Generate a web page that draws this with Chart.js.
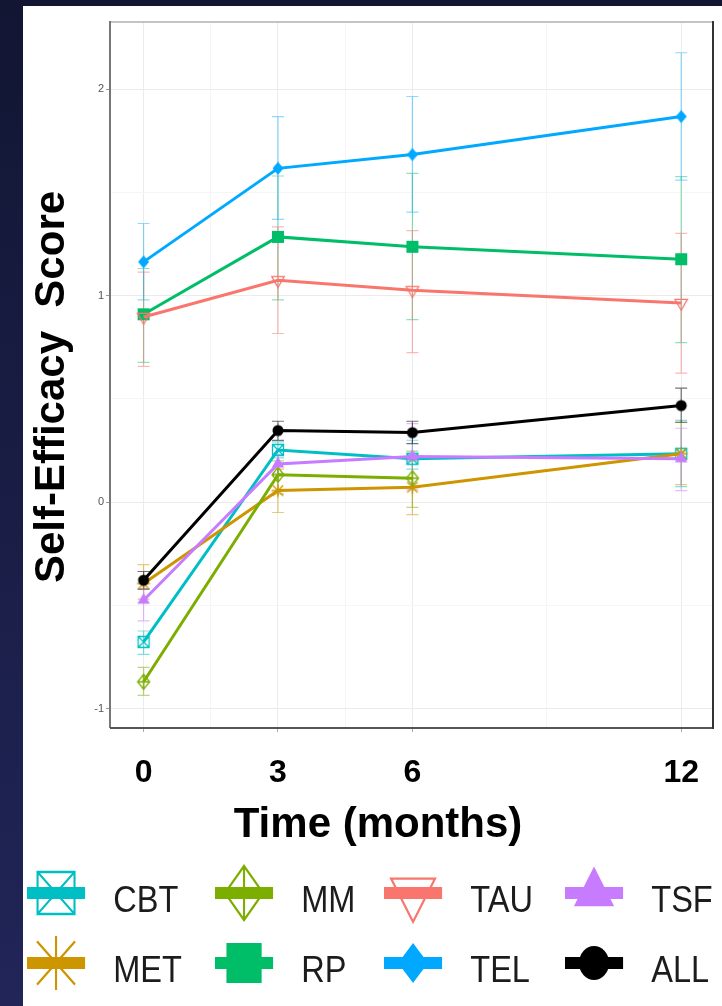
<!DOCTYPE html>
<html>
<head>
<meta charset="utf-8">
<script src="https://cdn.jsdelivr.net/npm/chart.js@4.4.1/dist/chart.umd.min.js"></script>
<style>
  html, body { margin: 0; padding: 0; }
  body { width: 722px; height: 1006px; overflow: hidden; position: relative;
         background: linear-gradient(#121633, #212558); }
  #sheet { position: absolute; left: 23px; top: 6px; right: 0; bottom: 0; background: #fff; }
  #box { position: absolute; left: 0; top: 0; width: 722px; height: 1006px; }
</style>
</head>
<body>
<div id="sheet"></div>
<div id="box"><canvas id="chart"></canvas></div>
<script>
// time points (months) and axis ticks
const months = [0, 3, 6, 12];
const xTicks = [0, 3, 6, 12];
const xMinor = [1.5, 4.5, 9];
const yTicks = [-1, 0, 1, 2];
const yMinor = [-0.5, 0.5, 1.5];
const groups = ['CBT', 'MET', 'MM', 'RP', 'TAU', 'TEL', 'TSF', 'ALL'];

// group means and error bar ends
const cbtMean = [-0.677, 0.253, 0.210, 0.234];
const cbtLow  = [-0.737, 0.215, 0.160, 0.075];
const cbtHigh = [-0.624, 0.292, 0.300, 0.396];

const metMean = [-0.394, 0.056, 0.072, 0.235];
const metLow  = [-0.470, -0.050, -0.060, 0.085];
const metHigh = [-0.303, 0.160, 0.200, 0.387];

const mmMean = [-0.870, 0.133, 0.116, null];
const mmLow  = [-0.936, 0.040, -0.025, null];
const mmHigh = [-0.800, 0.200, 0.247, null];

const rpMean = [0.910, 1.285, 1.237, 1.177];
const rpLow  = [0.677, 0.980, 0.884, 0.773];
const rpHigh = [1.132, 1.580, 1.593, 1.577];

const tauMean = [0.897, 1.075, 1.027, 0.965];
const tauLow  = [0.658, 0.817, 0.724, 0.625];
const tauHigh = [1.114, 1.334, 1.315, 1.302];

const telMean = [1.164, 1.617, 1.684, 1.868];
const telLow  = [0.980, 1.370, 1.405, 1.560];
const telHigh = [1.350, 1.868, 1.965, 2.177];

const tsfMean = [-0.475, 0.185, 0.221, 0.210];
const tsfLow  = [-0.575, 0.140, 0.060, 0.056];
const tsfHigh = [-0.420, 0.230, 0.380, 0.358];

const allMean = [-0.378, 0.347, 0.337, 0.468];
const allLow  = [-0.421, 0.299, 0.284, 0.387];
const allHigh = [-0.336, 0.392, 0.392, 0.552];

const table = {
  CBT: { mean: cbtMean, low: cbtLow, high: cbtHigh },
  MET: { mean: metMean, low: metLow, high: metHigh },
  MM:  { mean: mmMean,  low: mmLow,  high: mmHigh },
  RP:  { mean: rpMean,  low: rpLow,  high: rpHigh },
  TAU: { mean: tauMean, low: tauLow, high: tauHigh },
  TEL: { mean: telMean, low: telLow, high: telHigh },
  TSF: { mean: tsfMean, low: tsfLow, high: tsfHigh },
  ALL: { mean: allMean, low: allLow, high: allHigh }
};

// look of each group (plot marker size, legend marker size)
const look = {
  CBT: { color: '#00BFC4', err: 'rgba(0,191,196,0.5)',   shape: 'squareCross', size: 11, legend: 42 },
  MET: { color: '#CD9600', err: 'rgba(205,150,0,0.5)',   shape: 'asterisk',    size: 13, legend: 54 },
  MM:  { color: '#7CAE00', err: 'rgba(124,174,0,0.5)',   shape: 'diamondPlus', size: 15, legend: 54 },
  RP:  { color: '#00BE67', err: 'rgba(0,190,103,0.45)',  shape: 'square',      size: 12, legend: 40 },
  TAU: { color: '#F8766D', err: 'rgba(248,118,109,0.5)', shape: 'triDown',     size: 12, legend: 48 },
  TEL: { color: '#00A9FF', err: 'rgba(0,169,255,0.45)',  shape: 'diamond',     size: 13, legend: 40 },
  TSF: { color: '#C77CFF', err: 'rgba(199,124,255,0.5)', shape: 'triUp',       size: 12, legend: 44 },
  ALL: { color: '#000000', err: 'rgba(0,0,0,0.55)',      shape: 'circle',      size: 11, legend: 34 }
};
const legendRows = [['CBT', 'MM', 'TAU', 'TSF'], ['MET', 'RP', 'TEL', 'ALL']];

const FONT = '"Liberation Sans", Arial, sans-serif';

function drawMarker(ctx, shape, color, cx, cy, s, lw) {
  const h = s / 2;
  ctx.save();
  ctx.strokeStyle = color;
  ctx.fillStyle = color;
  ctx.lineWidth = lw;
  ctx.beginPath();
  if (shape === 'squareCross') {
    ctx.rect(cx - h, cy - h, s, s);
    ctx.moveTo(cx - h, cy - h); ctx.lineTo(cx + h, cy + h);
    ctx.moveTo(cx + h, cy - h); ctx.lineTo(cx - h, cy + h);
    ctx.stroke();
  } else if (shape === 'diamondPlus') {
    ctx.moveTo(cx, cy - h); ctx.lineTo(cx + h * 0.8, cy);
    ctx.lineTo(cx, cy + h); ctx.lineTo(cx - h * 0.8, cy); ctx.closePath();
    ctx.moveTo(cx, cy - h); ctx.lineTo(cx, cy + h);
    ctx.moveTo(cx - h * 0.8, cy); ctx.lineTo(cx + h * 0.8, cy);
    ctx.stroke();
  } else if (shape === 'triDown') {
    const r = s * 0.6;
    ctx.moveTo(cx - r * 0.866, cy - r / 2); ctx.lineTo(cx + r * 0.866, cy - r / 2);
    ctx.lineTo(cx, cy + r); ctx.closePath();
    ctx.stroke();
  } else if (shape === 'triUp') {
    const r = s * 0.6;
    ctx.moveTo(cx - r * 0.866, cy + r / 2); ctx.lineTo(cx + r * 0.866, cy + r / 2);
    ctx.lineTo(cx, cy - r); ctx.closePath();
    ctx.fill();
  } else if (shape === 'asterisk') {
    const d = h * 0.8;
    ctx.moveTo(cx, cy - h); ctx.lineTo(cx, cy + h);
    ctx.moveTo(cx - h, cy); ctx.lineTo(cx + h, cy);
    ctx.moveTo(cx - d, cy - d); ctx.lineTo(cx + d, cy + d);
    ctx.moveTo(cx + d, cy - d); ctx.lineTo(cx - d, cy + d);
    ctx.stroke();
  } else if (shape === 'square') {
    ctx.fillRect(cx - h, cy - h, s, s);
  } else if (shape === 'diamond') {
    ctx.moveTo(cx, cy - h); ctx.lineTo(cx + h * 0.85, cy);
    ctx.lineTo(cx, cy + h); ctx.lineTo(cx - h * 0.85, cy); ctx.closePath();
    ctx.fill();
  } else if (shape === 'circle') {
    ctx.arc(cx, cy, h, 0, Math.PI * 2);
    ctx.fill();
  }
  ctx.restore();
}

function markerCanvas(name) {
  const c = document.createElement('canvas');
  c.width = 22; c.height = 22;
  drawMarker(c.getContext('2d'), look[name].shape, look[name].color, 11, 11, look[name].size, 1.3);
  return c;
}

// error bars under the lines
const errorBars = {
  id: 'errorBars',
  beforeDatasetsDraw(chart) {
    const { ctx, chartArea, scales: { x, y } } = chart;
    ctx.save();
    ctx.beginPath();
    ctx.rect(chartArea.left, chartArea.top, chartArea.width, chartArea.height);
    ctx.clip();
    chart.data.datasets.forEach(ds => {
      ctx.strokeStyle = ds.errColor;
      ctx.lineWidth = 1.2;
      ds.low.forEach((lo, i) => {
        if (lo == null) return;
        const px = x.getPixelForValue(months[i]);
        const p1 = y.getPixelForValue(lo);
        const p2 = y.getPixelForValue(ds.high[i]);
        ctx.beginPath();
        ctx.moveTo(px, p1); ctx.lineTo(px, p2);
        ctx.moveTo(px - 6, p1); ctx.lineTo(px + 6, p1);
        ctx.moveTo(px - 6, p2); ctx.lineTo(px + 6, p2);
        ctx.stroke();
      });
    });
    ctx.restore();
  }
};

// panel frame
const frame = {
  id: 'frame',
  afterDatasetsDraw(chart) {
    const { ctx, chartArea: a } = chart;
    ctx.save();
    ctx.lineWidth = 2;
    ctx.strokeStyle = '#c4c4c4';
    ctx.beginPath(); ctx.moveTo(a.left, a.top); ctx.lineTo(a.right, a.top); ctx.stroke();
    ctx.strokeStyle = '#777';
    ctx.beginPath(); ctx.moveTo(a.left, a.top - 1); ctx.lineTo(a.left, a.bottom); ctx.stroke();
    ctx.strokeStyle = '#555';
    ctx.beginPath(); ctx.moveTo(a.left, a.bottom); ctx.lineTo(a.right, a.bottom); ctx.stroke();
    ctx.strokeStyle = '#333';
    ctx.beginPath(); ctx.moveTo(a.right, a.top - 1); ctx.lineTo(a.right, a.bottom + 1); ctx.stroke();
    ctx.restore();
  }
};

// axis titles and the legend
const decor = {
  id: 'decor',
  afterDraw(chart) {
    const { ctx, chartArea: a } = chart;
    ctx.save();
    ctx.fillStyle = '#000';
    ctx.font = 'bold 42px ' + FONT;
    ctx.textAlign = 'center';
    ctx.textBaseline = 'alphabetic';
    ctx.fillText('Time (months)', 378, 837);

    ctx.save();
    ctx.translate(52, 387);
    ctx.rotate(-Math.PI / 2);
    ctx.textBaseline = 'middle';
    ctx.fillText('Self-Efficacy  Score', 0, 0);
    ctx.restore();

    const colX = [27, 215, 384, 565];
    const bandY = [893, 963];
    const textY = [912, 982];
    legendRows.forEach((row, r) => {
      row.forEach((name, c) => {
        const st = look[name];
        ctx.save();
        ctx.translate(colX[c], 0);
        ctx.scale(0.88, 1);
        ctx.fillStyle = st.color;
        ctx.fillRect(0, bandY[r] - 6, 66, 12);
        drawMarker(ctx, st.shape, st.color, 33, bandY[r], st.legend, 2.4);
        ctx.fillStyle = '#1c1c1c';
        ctx.font = '37px ' + FONT;
        ctx.textAlign = 'left';
        ctx.textBaseline = 'alphabetic';
        ctx.fillText(name, 98, textY[r]);
        ctx.restore();
      });
    });
    ctx.restore();
  }
};

const datasets = groups.map((g, i) => ({
  label: g,
  data: months.map((m, k) => ({ x: m, y: table[g].mean[k] })),
  low: table[g].low,
  high: table[g].high,
  errColor: look[g].err,
  borderColor: look[g].color,
  backgroundColor: look[g].color,
  borderWidth: 3,
  pointStyle: markerCanvas(g),
  pointRadius: 6,
  pointHoverRadius: 6,
  tension: 0,
  spanGaps: false,
  order: groups.length - 1 - i
}));

new Chart(document.getElementById('chart').getContext('2d'), {
  type: 'line',
  data: { datasets: datasets },
  options: {
    responsive: true,
    maintainAspectRatio: false,
    animation: false,
    layout: { padding: { top: 22, right: 5, left: 0, bottom: 198 } },
    plugins: { legend: { display: false }, tooltip: { enabled: false } },
    scales: {
      x: {
        type: 'linear',
        bounds: 'data',
        min: -0.75,
        max: 12.71,
        afterFit: s => { s.height = 80; },
        afterBuildTicks: s => { s.ticks = xTicks.concat(xMinor).sort((p, q) => p - q).map(v => ({ value: v })); },
        border: { display: false },
        grid: {
          color: c => xMinor.includes(c.tick.value) ? '#f5f5f5' : '#ebebeb',
          tickColor: c => xMinor.includes(c.tick.value) ? 'rgba(0,0,0,0)' : '#aaa',
          tickLength: 4,
          lineWidth: 1
        },
        ticks: {
          autoSkip: false,
          maxRotation: 0,
          padding: 22,
          color: '#000',
          font: { family: FONT, size: 32, weight: 'bold' },
          callback: v => xTicks.includes(v) ? String(v) : ''
        }
      },
      y: {
        type: 'linear',
        bounds: 'data',
        min: -1.094,
        max: 2.326,
        afterFit: s => { s.width = 110; },
        afterBuildTicks: s => { s.ticks = yTicks.concat(yMinor).sort((p, q) => p - q).map(v => ({ value: v })); },
        border: { display: false },
        grid: {
          color: c => yMinor.includes(c.tick.value) ? '#f5f5f5' : '#ebebeb',
          tickColor: c => yMinor.includes(c.tick.value) ? 'rgba(0,0,0,0)' : '#999',
          tickLength: 4,
          lineWidth: 1
        },
        ticks: {
          autoSkip: false,
          padding: 2,
          color: '#555',
          font: { family: FONT, size: 11 },
          callback: v => yTicks.includes(v) ? String(v) : ''
        }
      }
    }
  },
  plugins: [errorBars, frame, decor]
});
</script>
</body>
</html>
